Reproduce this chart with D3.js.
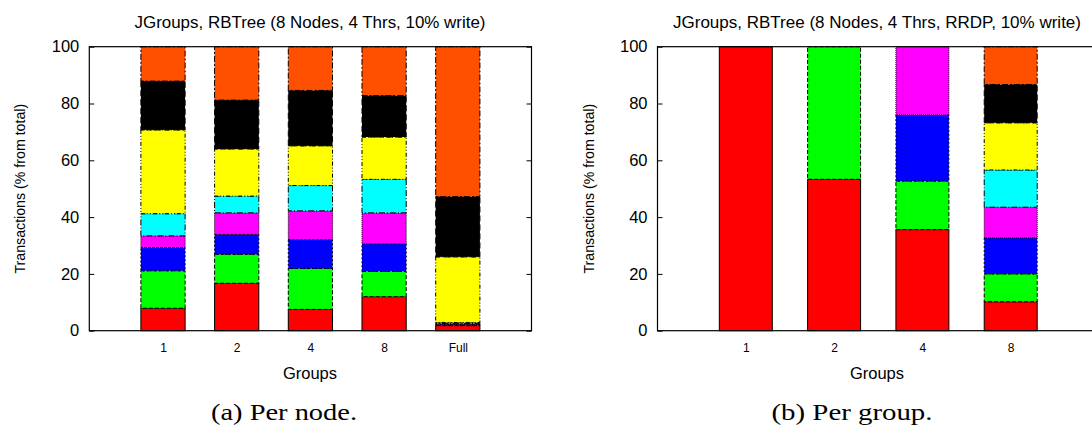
<!DOCTYPE html>
<html><head><meta charset="utf-8">
<script src="https://cdn.jsdelivr.net/npm/d3@7"></script>
<style>
html,body{margin:0;padding:0;background:#fff;}
svg{display:block;}
</style></head>
<body>
<svg id="c" width="1092" height="429"></svg>
<script>
// ---------- data ----------
const seriesKeys = ["red","green","blue","magenta","cyan","yellow","black","orange"];
const yTicks = [0,20,40,60,80,100];

// (a) Per node
const catsA = ["1","2","4","8","Full"];
const aRed     = [7.9, 16.7, 7.5, 12.0, 1.8];
const aGreen   = [13.2, 10.2, 14.4, 8.9, 0.2];
const aBlue    = [8.2, 7.0, 10.2, 9.7, 0.3];
const aMagenta = [4.1, 7.6, 10.1, 10.9, 0.3];
const aCyan    = [7.8, 5.9, 8.9, 11.8, 0.3];
const aYellow  = [29.5, 16.6, 14.0, 14.9, 23.1];
const aBlack   = [17.2, 17.2, 19.5, 14.6, 21.2];
const aOrange  = [12.1, 18.8, 15.4, 17.2, 52.8];

// (b) Per group
const catsB = ["1","2","4","8"];
const bRed     = [100, 53.3, 35.6, 10.2];
const bGreen   = [0, 46.7, 17.1, 9.8];
const bBlue    = [0, 0, 23.3, 12.7];
const bMagenta = [0, 0, 24.0, 10.8];
const bCyan    = [0, 0, 0, 13.1];
const bYellow  = [0, 0, 0, 16.6];
const bBlack   = [0, 0, 0, 13.5];
const bOrange  = [0, 0, 0, 13.3];

const titleA = "JGroups, RBTree (8 Nodes, 4 Thrs, 10% write)";
const titleB = "JGroups, RBTree (8 Nodes, 4 Thrs, RRDP, 10% write)";
const xLabel = "Groups";
const yLabel = "Transactions (% from total)";
const captionA = "(a) Per node.";
const captionB = "(b) Per group.";

// ---------- style ----------
const colors = {red:"#ff0000",green:"#00ff00",blue:"#0000ff",magenta:"#ff00ff",
  cyan:"#00ffff",yellow:"#ffff00",black:"#000000",orange:"#ff5000"};
const dashes = {red:null,green:"4,2",blue:"2,2",magenta:"1,1",cyan:"6,2,1,2",
  yellow:"4,2,1,2,1,2",black:"6,3",orange:"6,2,2,2"};

const svg = d3.select("#c");
const sans = "Liberation Sans, Arial, sans-serif";

function panel(opt){
  const rows = opt.cats.map((c,i)=>{
    const r = {cat:c, idx:i};
    seriesKeys.forEach((k,j)=>{ r[k] = opt.series[j][i]; });
    return r;
  });
  const x = d3.scaleLinear().domain([0, opt.slots]).range([opt.left, opt.left + opt.slots*opt.slotW]);
  const y = d3.scaleLinear().domain([0,100]).range([330.7, 46.7]);
  const bw = 0.6*opt.slotW;
  const g = svg.append("g");

  const stack = d3.stack().keys(seriesKeys)(rows);
  stack.forEach(layer=>{
    const k = layer.key;
    g.append("g").selectAll("rect")
      .data(layer.filter(d=>d[1]-d[0]>0.001))
      .join("rect")
      .attr("x", d=>x(d.data.idx+1)-bw/2)
      .attr("width", bw)
      .attr("y", d=>y(d[1]))
      .attr("height", d=>y(d[0])-y(d[1]))
      .attr("fill", colors[k])
      .attr("stroke", "#000")
      .attr("stroke-width", 1)
      .attr("stroke-dasharray", dashes[k]);
  });

  // border
  const x0 = x.range()[0], x1 = x.range()[1];
  g.append("rect").attr("x",x0).attr("y",y(100)).attr("width",x1-x0).attr("height",y(0)-y(100))
    .attr("fill","none").attr("stroke","#000").attr("stroke-width",1.2);

  // y axis (ticks inward)
  const ya = g.append("g").attr("transform",`translate(${x0},0)`)
    .call(d3.axisLeft(y).tickValues(yTicks).tickSizeInner(-5).tickSizeOuter(0).tickPadding(10));
  ya.select(".domain").remove();
  ya.selectAll("text").attr("font-family",sans).attr("font-size",16.5).attr("fill","#000");
  ya.selectAll("line").attr("stroke","#000");
  const yr = g.append("g").attr("transform",`translate(${x1},0)`)
    .call(d3.axisRight(y).tickValues(yTicks).tickSizeInner(-5).tickSizeOuter(0).tickFormat(""));
  yr.select(".domain").remove();
  yr.selectAll("line").attr("stroke","#000");

  // x axis labels
  const xa = g.append("g").attr("transform",`translate(0,${y(0)})`)
    .call(d3.axisBottom(x).tickValues(opt.cats.map((c,i)=>i+1))
      .tickFormat(v=>opt.cats[v-1]).tickSize(0).tickPadding(13));
  xa.select(".domain").remove();
  xa.selectAll("text").attr("font-family",sans).attr("font-size",12).attr("fill","#000");

  g.append("text").attr("x",opt.titleX).attr("y",28.3).attr("text-anchor","middle")
    .attr("font-family",sans).attr("font-size",16)
    .attr("textLength",opt.titleW).attr("lengthAdjust","spacingAndGlyphs").text(opt.title);
  g.append("text").attr("x",opt.titleX).attr("y",379.3).attr("text-anchor","middle")
    .attr("font-family",sans).attr("font-size",16.5).text(xLabel);
  g.append("text").attr("transform",`translate(${x0-64},188.7) rotate(-90)`)
    .attr("text-anchor","middle").attr("font-family",sans).attr("font-size",14.2).text(yLabel);
  g.append("text").attr("x",opt.capX).attr("y",420).attr("text-anchor","middle")
    .attr("font-family","Liberation Serif, serif").attr("font-size",24)
    .attr("textLength",opt.capW).attr("lengthAdjust","spacingAndGlyphs").text(opt.caption);
}

panel({cats:catsA, series:[aRed,aGreen,aBlue,aMagenta,aCyan,aYellow,aBlack,aOrange],
  slots:6, left:89.3, slotW:73.7, title:titleA, titleX:310, titleW:351, capX:284, capW:146, caption:captionA});
panel({cats:catsB, series:[bRed,bGreen,bBlue,bMagenta,bCyan,bYellow,bBlack,bOrange],
  slots:5, left:657.5, slotW:88.3, title:titleB, titleX:877, titleW:408, capX:852, capW:161, caption:captionB});
</script>
</body></html>
